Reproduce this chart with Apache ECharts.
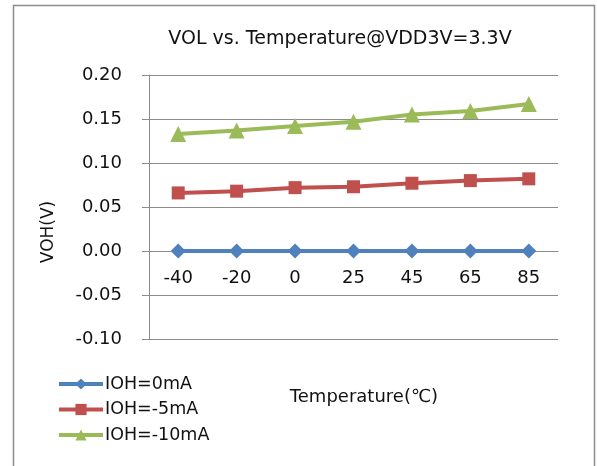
<!DOCTYPE html>
<html>
<head>
<meta charset="utf-8">
<script src="https://cdn.jsdelivr.net/npm/echarts@6/dist/echarts.min.js"></script>
<style>
html,body{margin:0;padding:0;background:#fff;}
#chart{width:597px;height:466px;}
</style>
</head>
<body>
<div id="chart"></div>
<script>
var categories = ['-40', '-20', '0', '25', '45', '65', '85'];
var ioh0 = [0, 0, 0, 0, 0, 0, 0];
var ioh5 = [0.066, 0.068, 0.072, 0.073, 0.077, 0.080, 0.082];
var ioh10 = [0.133, 0.137, 0.142, 0.147, 0.155, 0.159, 0.167];
var seriesNames = ['IOH=0mA', 'IOH=-5mA', 'IOH=-10mA'];
var yTicks = { min: -0.1, max: 0.2, interval: 0.05 };

var FONT = '"DejaVu Sans", sans-serif';
var chart = echarts.init(document.getElementById('chart'), null, { renderer: 'canvas' });

function mkSeries(name, data, color, symbol, size) {
  return {
    name: name, type: 'line', data: data,
    symbol: symbol, symbolSize: size,
    lineStyle: { color: color, width: 4 },
    itemStyle: { color: color },
    emphasis: { disabled: true },
    animation: false
  };
}

var gridTop = 75, gridBottom = 127;
var zeroOffset = -(0 - yTicks.min) / (yTicks.max - yTicks.min) * (466 - gridTop - gridBottom);

chart.setOption({
  animation: false,
  title: {
    text: 'VOL vs. Temperature@VDD3V=3.3V',
    left: 335, top: 25, textAlign: 'center',
    textStyle: { fontFamily: FONT, fontSize: 19, fontWeight: 'normal', color: '#111' }
  },
  grid: { left: 149, right: 39, top: gridTop, bottom: gridBottom, containLabel: false },
  legend: {
    orient: 'vertical', left: 57, top: 375, padding: 0,
    itemWidth: 44, itemHeight: 14, itemGap: 7.5,
    lineStyle: { width: 4 },
    textStyle: { fontFamily: FONT, fontSize: 17.5, color: '#111', padding: [0, 0, 0, -3] },
    data: seriesNames
  },
  xAxis: {
    type: 'category', data: categories, boundaryGap: true,
    offset: zeroOffset,
    axisLine: { onZero: false, lineStyle: { color: '#8c8c8c', width: 1 } },
    axisTick: { show: false },
    axisLabel: { fontFamily: FONT, fontSize: 18, color: '#111', margin: 18 }
  },
  yAxis: {
    type: 'value', min: yTicks.min, max: yTicks.max, interval: yTicks.interval,
    axisLine: { show: true, lineStyle: { color: '#8c8c8c', width: 1 } },
    axisTick: { show: true, length: 7, lineStyle: { color: '#8c8c8c' } },
    splitLine: { lineStyle: { color: '#8c8c8c', width: 1 } },
    axisLabel: {
      fontFamily: FONT, fontSize: 18, color: '#111', margin: 27,
      formatter: function (v) { return v.toFixed(2); }
    }
  },
  graphic: [
    { type: 'rect', shape: { x: 13.5, y: 5.5, width: 581, height: 470 },
      style: { fill: 'none', stroke: '#8c8c8c', lineWidth: 1.5 }, silent: true },
    { type: 'text', x: 49, y: 232, rotation: Math.PI / 2,
      style: { text: 'VOH(V)', font: '17px ' + FONT, fill: '#111', textAlign: 'center', textVerticalAlign: 'middle' } },
    { type: 'text', x: 364, y: 397,
      style: { text: 'Temperature(℃)', font: '18px ' + FONT, fill: '#111', textAlign: 'center', textVerticalAlign: 'middle' } }
  ],
  series: [
    mkSeries(seriesNames[0], ioh0, '#4F81BD', 'diamond', 15),
    mkSeries(seriesNames[1], ioh5, '#C0504D', 'rect', 13),
    mkSeries(seriesNames[2], ioh10, '#9BBB59', 'triangle', 16)
  ]
});
</script>
</body>
</html>
